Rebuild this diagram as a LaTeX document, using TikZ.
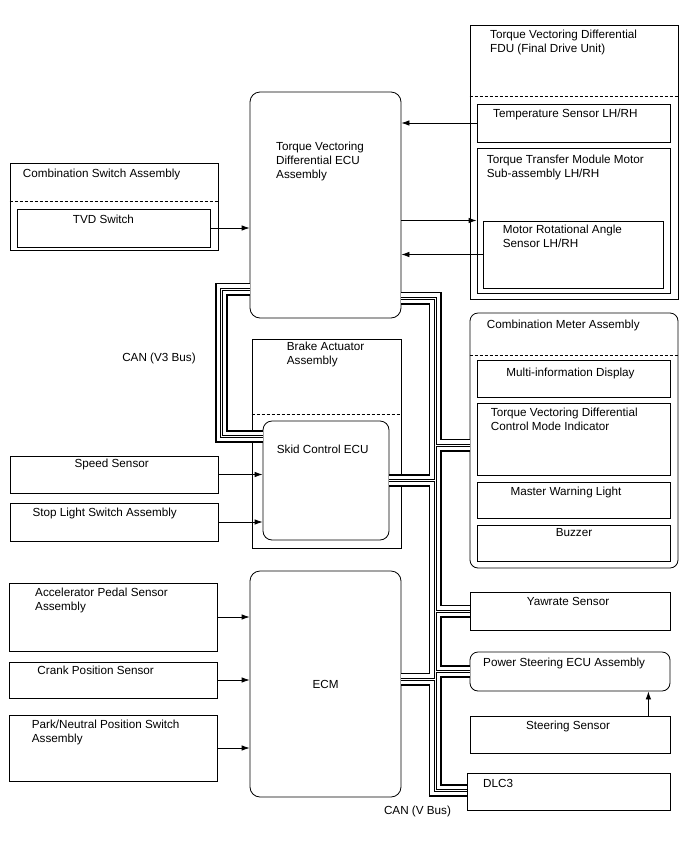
\documentclass[tikz,border=0pt]{standalone}
\usepackage{fontspec}
\setmainfont{Liberation Sans}
\usetikzlibrary{arrows.meta,positioning,calc}

% CAN bus drawn in layers so that junctions merge
\newcommand{\canroute}[1]{%
  \draw[#1] (tvdecu.west |- v3top) -- (v3top) -- (v3bot) -- (skid.west |- v3bot);
  \draw[#1] (tvdecu.east |- vtop) -- (vtop) -- (vbot) -- (dlc.west |- vbot);
  \draw[#1] (mbr) -- (meter.west |- mbr);
  \draw[#1] (skid.east) -- (skid.east -| vtop);
  \draw[#1] (yaw.west -| vtop) -- (yaw.west);
  \draw[#1] (psecu.west -| vtop) -- (psecu.west);
  \draw[#1] (ecm.east |- ebr) -- (ebr);
}

\begin{document}
\begin{tikzpicture}[x=1pt, y=-1pt,
    box/.style={rectangle, draw, line width=0.8pt, inner sep=0pt},
    rbox/.style={box, rounded corners=9pt},
    txt/.style={inner sep=0pt, anchor=base west, align=left,
                font=\fontsize{11.7}{14}\selectfont},
    divider/.style={line width=0.8pt, dash pattern=on 3pt off 2pt},
    arrow/.style={-{Latex[length=8pt,width=5.5pt]}, line width=0.8pt},
    canA/.style={line width=13pt, draw=black},
    canB/.style={line width=9.4pt, draw=white},
    canC/.style={line width=3pt, draw=black},
    canD/.style={line width=1pt, draw=white}
  ]
  \useasboundingbox (0,0) rectangle (688,852);

  % Combination switch
  \node[box, minimum width=208, minimum height=87] (combsw) at (114,206.5) {};
  \draw[divider] ($(combsw.north west)+(0,39)$) -- ($(combsw.north east)+(0,39)$);
  \node[txt] at (22.7,177) {Combination Switch Assembly};
  \node[box, minimum width=193, minimum height=38] (tvdsw) at (113.5,228) {};
  \node[txt] at (72.7,223) {TVD Switch};

  % TVD ECU
  \node[rbox, rounded corners=10pt, minimum width=151, minimum height=226] (tvdecu) at (325.5,205) {};
  \node[txt] at (276,178.5) {Torque Vectoring\\Differential ECU\\Assembly};

  % FDU
  \node[box, minimum width=208, minimum height=274] (fdu) at (574,162) {};
  \draw[divider] ($(fdu.north west)+(0,72)$) -- ($(fdu.north east)+(0,72)$);
  \node[txt] at (490,52) {Torque Vectoring Differential\\FDU (Final Drive Unit)};
  \node[box, minimum width=193, minimum height=38] (tempsens) at (573.5,123) {};
  \node[txt] at (493,117) {Temperature Sensor LH/RH};
  \node[box, minimum width=193, minimum height=145] (ttm) at (573.5,220.5) {};
  \node[txt] at (486.7,177.5) {Torque Transfer Module Motor\\Sub-assembly LH/RH};
  \node[box, minimum width=180, minimum height=67] (motorsens) at (573,254.5) {};
  \node[txt] at (502.7,247.5) {Motor Rotational Angle\\Sensor LH/RH};

  % Brake actuator
  \node[box, minimum width=149, minimum height=209] (brake) at (326.5,443.5) {};
  \draw[divider] ($(brake.north west)+(0,76)$) -- ($(brake.north east)+(0,76)$);
  \node[txt] at (286.7,364) {Brake Actuator\\Assembly};
  \node[rbox, minimum width=126, minimum height=119, fill=white] (skid) at (326,480.5) {};
  \node[txt] at (276.7,453) {Skid Control ECU};

  \node[box, minimum width=208, minimum height=37] (speed) at (114,474.5) {};
  \node[txt, anchor=base] at (111.7,467.5) {Speed Sensor};
  \node[box, minimum width=208, minimum height=38] (stoplt) at (114,522) {};
  \node[txt] at (32.3,516) {Stop Light Switch Assembly};

  % ECM and its inputs
  \node[rbox, rounded corners=10pt, minimum width=151, minimum height=226,
        font=\fontsize{11.7}{14}\selectfont] (ecm) at (325.5,684) {ECM};
  \node[box, minimum width=208, minimum height=68] (accel) at (113,617) {};
  \node[txt] at (35,610) {Accelerator Pedal Sensor\\Assembly};
  \node[box, minimum width=208, minimum height=36] (crank) at (113,680) {};
  \node[txt] at (37.3,674) {Crank Position Sensor};
  \node[box, minimum width=208, minimum height=66] (parkn) at (113,748) {};
  \node[txt] at (31.7,742.5) {Park/Neutral Position Switch\\Assembly};

  % Combination meter
  \node[rbox, rounded corners=8pt, minimum width=208, minimum height=255] (meter) at (574,440.5) {};
  \draw[divider] ($(meter.north west)+(0,43)$) -- ($(meter.north east)+(0,43)$);
  \node[txt] at (486.7,328.5) {Combination Meter Assembly};
  \node[box, minimum width=193, minimum height=37] (mid) at (573.5,378.5) {};
  \node[txt, anchor=base] at (570.5,376) {Multi-information Display};
  \node[box, minimum width=193, minimum height=72] (tvdind) at (573.5,439) {};
  \node[txt] at (490.7,430) {Torque Vectoring Differential\\Control Mode Indicator};
  \node[box, minimum width=193, minimum height=36] (mwl) at (573.5,500) {};
  \node[txt, anchor=base] at (566,495) {Master Warning Light};
  \node[box, minimum width=193, minimum height=36] (buzzer) at (573.5,543) {};
  \node[txt, anchor=base] at (574,536) {Buzzer};

  % Lower right column
  \node[box, minimum width=200, minimum height=38] (yaw) at (570,611) {};
  \node[txt, anchor=base] at (568,605) {Yawrate Sensor};
  \node[rbox, rounded corners=8pt, minimum width=200, minimum height=39] (psecu) at (570,671.5) {};
  \node[txt] at (483,666) {Power Steering ECU Assembly};
  \node[box, minimum width=200, minimum height=37] (steer) at (570,734.5) {};
  \node[txt, anchor=base] at (568,729) {Steering Sensor};
  \node[box, minimum width=203, minimum height=37] (dlc) at (568.5,791.5) {};
  \node[txt] at (483,787) {DLC3};

  % Bus labels
  \node[txt, anchor=base] at (159,361) {CAN (V3 Bus)};
  \node[txt, anchor=base] at (417.5,814) {CAN (V Bus)};

  % Signal lines
  \draw[arrow] (tvdsw.east) -- (tvdsw.east -| tvdecu.west);
  \draw[arrow] (tempsens.west) -- (tempsens.west -| tvdecu.east);
  \draw[arrow] (tvdecu.east |- ttm.west) -- (ttm.west);
  \draw[arrow] (motorsens.west) -- (motorsens.west -| tvdecu.east);
  \draw[arrow] (speed.east) -- (speed.east -| skid.west);
  \draw[arrow] (stoplt.east) -- (stoplt.east -| skid.west);
  \draw[arrow] (accel.east) -- (accel.east -| ecm.west);
  \draw[arrow] (crank.east) -- (crank.east -| ecm.west);
  \draw[arrow] (parkn.east) -- (parkn.east -| ecm.west);
  \draw[arrow] ($(steer.north east)+(-22,0)$) -- ($(psecu.south east)+(-22,0)$);

  % CAN bus
  \coordinate (v3top) at (221.7,289);
  \coordinate (v3bot) at (221.7,436.5);
  \coordinate (vtop) at (435,298);
  \coordinate (vbot) at (435,790.5);
  \coordinate (mbr) at (435,445);
  \coordinate (ebr) at (435,679);
  \canroute{canA}
  \canroute{canB}
  \canroute{canC}
  \canroute{canD}

\end{tikzpicture}
\end{document}
